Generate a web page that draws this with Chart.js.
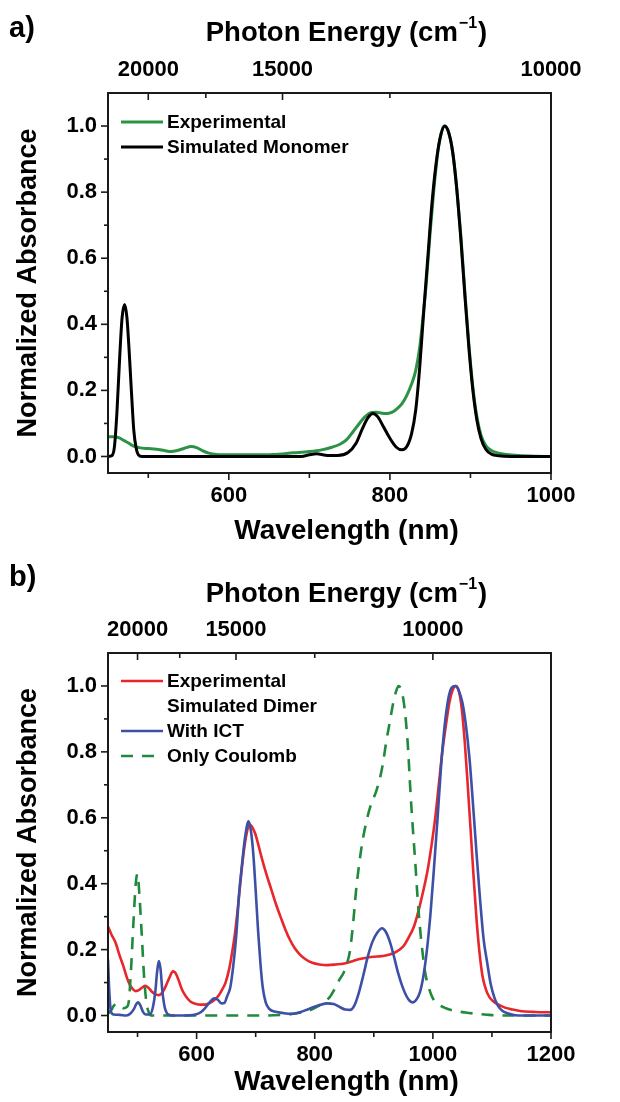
<!DOCTYPE html>
<html>
<head>
<meta charset="utf-8">
<title>Absorbance spectra</title>
<script src="https://cdn.jsdelivr.net/npm/chart.js@4.4.1/dist/chart.umd.min.js"></script>
<style>
  html, body { margin: 0; padding: 0; background: #fff; }
  .panel { width: 620px; position: relative; }
  canvas { display: block; }
</style>
</head>
<body>
<div class="panel"><canvas id="chartA" width="620" height="552"></canvas></div>
<div class="panel"><canvas id="chartB" width="620" height="550"></canvas></div>
<script>
// ---- axis ticks ----
const yTicks = [0, 0.2, 0.4, 0.6, 0.8, 1.0]
const yMinorTicks = [0.1, 0.3, 0.5, 0.7, 0.9]
const energyTicks = [20000, 15000, 10000]
const energyMinorTicks = [17500, 12500]
const wlTicksA = [600, 800, 1000]
const wlMinorA = [500, 700, 900]
const wlTicksB = [600, 800, 1000, 1200]
const wlMinorB = [500, 700, 900, 1100]

// ---- panel a: monomer ----
const expAWl = [450,458,464,470,476,482,490,500,510,520,528,536,545,553,560,567,575,585,600,630,655,680,700,715,728,738,746,754,762,770,777,783,790,797,803,809,815,821,827,832,837,841,845,850,855,860,865,868,873,878,883,888,893,898,903,908,913,919,926,935,945,960,980,1000]
const expAAbs = [0.06,0.06,0.056,0.048,0.04,0.031,0.026,0.024,0.022,0.018,0.015,0.018,0.025,0.03,0.027,0.018,0.01,0.006,0.005,0.005,0.006,0.011,0.015,0.02,0.028,0.037,0.05,0.074,0.1,0.122,0.133,0.134,0.131,0.13,0.134,0.145,0.16,0.185,0.22,0.26,0.33,0.42,0.52,0.68,0.82,0.93,0.99,1.0,0.98,0.92,0.81,0.67,0.5,0.34,0.21,0.12,0.065,0.033,0.018,0.01,0.006,0.003,0.001,0]

const monoWl = [450,455,458,461,464.5,467.5,470.7,473.5,476,479,482,485,488,492,690,700,709,720,735,748,758,766,773,779,785,792,800,808,815,821,827,832,837,842,847,852,857,862,868,873,878,883,888,893,898,903,908,913,919,926,935,950,1000]
const monoAbs = [0,0.003,0.03,0.13,0.3,0.42,0.46,0.42,0.33,0.2,0.08,0.025,0.004,0,0,0.005,0.008,0.004,0.003,0.012,0.04,0.085,0.118,0.13,0.12,0.09,0.055,0.028,0.02,0.03,0.07,0.14,0.27,0.44,0.6,0.76,0.88,0.96,1.0,0.98,0.92,0.81,0.66,0.49,0.33,0.2,0.11,0.055,0.022,0.007,0.002,0,0]

// ---- panel b: dimer ----
const expBWl = [450,456,463,470,476,482,487,492,497,503,508,513,518,524,530,536,542,548,554,560,564,569,575,582,590,598,606,614,622,630,637,643,649,655,660,665,670,675,680,685,689,693,699,705,710,718,726,734,742,750,758,766,775,785,796,808,822,836,850,864,878,892,906,920,932,944,952,960,968,976,984,991,998,1004,1010,1016,1022,1028,1033,1039,1044,1049,1054,1059,1064,1069,1074,1079,1084,1090,1096,1103,1112,1122,1135,1150,1170,1185,1200]
const expBAbs = [0.27,0.245,0.22,0.18,0.15,0.115,0.093,0.08,0.074,0.078,0.085,0.09,0.085,0.073,0.064,0.062,0.07,0.09,0.115,0.134,0.13,0.11,0.08,0.058,0.042,0.036,0.033,0.033,0.038,0.047,0.06,0.078,0.1,0.14,0.19,0.25,0.33,0.42,0.5,0.555,0.578,0.575,0.553,0.515,0.48,0.43,0.385,0.34,0.3,0.262,0.23,0.205,0.185,0.17,0.16,0.155,0.153,0.155,0.158,0.165,0.172,0.177,0.179,0.182,0.188,0.2,0.215,0.24,0.27,0.32,0.38,0.44,0.52,0.6,0.7,0.8,0.88,0.95,0.985,1.0,0.985,0.93,0.83,0.7,0.56,0.42,0.29,0.19,0.12,0.078,0.055,0.042,0.032,0.024,0.018,0.013,0.011,0.01,0.01]

const ictWl = [450,452,455,460,470,481,488,494,498,501,505,509,514,521,526,530,533,536,539,542,546,550,556,575,598,607,614,622,630,636,642,647,652,657,662,667,672,677,682,688,692,696,700,704,708,712,717,723,732,745,760,775,790,805,820,832,843,852,860,867,874,882,890,898,906,914,920,927,934,941,948,955,961,966,972,978,984,990,996,1002,1008,1014,1020,1026,1032,1038,1044,1050,1056,1062,1068,1074,1080,1086,1092,1098,1104,1110,1118,1128,1140,1150,1200]
const ictAbs = [0.17,0.08,0.012,0.003,0.002,0,0.006,0.02,0.035,0.04,0.03,0.012,0.003,0.003,0.025,0.07,0.13,0.165,0.14,0.075,0.025,0.006,0.001,0,0.003,0.01,0.022,0.04,0.052,0.048,0.037,0.038,0.06,0.085,0.15,0.24,0.37,0.46,0.54,0.589,0.56,0.49,0.38,0.26,0.16,0.085,0.04,0.02,0.012,0.008,0.005,0.01,0.02,0.03,0.037,0.035,0.025,0.018,0.017,0.03,0.065,0.12,0.18,0.225,0.252,0.265,0.255,0.225,0.18,0.13,0.09,0.06,0.044,0.04,0.048,0.07,0.12,0.2,0.31,0.45,0.6,0.76,0.88,0.96,0.995,1.0,0.985,0.95,0.88,0.78,0.64,0.49,0.35,0.23,0.16,0.095,0.055,0.03,0.014,0.006,0.001,0,0]

const coulWl = [450,455,460,465,470,476,481,485,489,493,497,500,503,507,511,515,519,524,720,745,770,790,805,815,825,833,842,849,855,860,865,870,876,882,889,896,903,909,915,921,927,933,938,942,946,950,954,958,962,966,970,974,978,982,987,993,1000,1010,1022,1035,1055,1075,1095,1110,1200]
const coulAbs = [0.005,0.015,0.03,0.036,0.028,0.022,0.025,0.04,0.14,0.28,0.4,0.43,0.37,0.25,0.12,0.04,0.01,0,0,0.002,0.007,0.015,0.028,0.04,0.055,0.078,0.11,0.13,0.16,0.2,0.28,0.38,0.47,0.54,0.6,0.645,0.675,0.71,0.76,0.83,0.89,0.95,0.985,1.0,0.99,0.96,0.9,0.81,0.68,0.57,0.47,0.36,0.27,0.2,0.13,0.085,0.052,0.033,0.022,0.015,0.009,0.005,0.002,0,0]

const FONT = '"Liberation Sans", Arial, Helvetica, sans-serif'
Chart.defaults.font.family = FONT
Chart.defaults.font.weight = 'bold'
Chart.defaults.color = '#000'

function series(xs, ys) {
  return xs.map((x, i) => ({ x: x, y: ys[i] }))
}

// frame, tick marks, panel letter, axis titles and legend
const panelDecor = {
  id: 'panelDecor',
  afterDraw(chart, args, opts) {
    const { ctx, chartArea: area, scales } = chart
    const line = (x1, y1, x2, y2) => {
      ctx.beginPath(); ctx.moveTo(x1, y1); ctx.lineTo(x2, y2); ctx.stroke()
    }
    ctx.save()
    ctx.strokeStyle = '#1a1a1a'
    ctx.lineWidth = 2
    ctx.strokeRect(area.left, area.top, area.right - area.left, area.bottom - area.top)

    ctx.lineWidth = 1.6
    opts.wlMajor.forEach((v) => { const x = scales.x.getPixelForValue(v); line(x, area.bottom, x, area.bottom + 7) })
    opts.wlMinor.forEach((v) => { const x = scales.x.getPixelForValue(v); line(x, area.bottom, x, area.bottom + 5) })
    yTicks.forEach((v) => { const y = scales.y.getPixelForValue(v); line(area.left - 7, y, area.left, y) })
    yMinorTicks.forEach((v) => { const y = scales.y.getPixelForValue(v); line(area.left - 4, y, area.left, y) })
    energyTicks.forEach((e) => { const x = scales.x2.getPixelForValue(1e7 / e); line(x, area.top, x, area.top + 7) })
    energyMinorTicks.forEach((e) => { const x = scales.x2.getPixelForValue(1e7 / e); line(x, area.top, x, area.top + 5) })

    ctx.fillStyle = '#000'
    ctx.textBaseline = 'middle'
    ctx.textAlign = 'left'
    ctx.font = 'bold 29px ' + FONT
    ctx.fillText(opts.letter, 9, opts.letterY)

    const midX = (area.left + area.right) / 2 + 17

    // Wavelength (nm)
    ctx.font = 'bold 28px ' + FONT
    ctx.textAlign = 'center'
    ctx.fillText('Wavelength (nm)', midX, opts.xTitleY)
    ctx.textAlign = 'left'

    // Photon Energy (cm^-1)
    const big = 'bold 27.5px ' + FONT
    const small = 'bold 16px ' + FONT
    const p1 = 'Photon Energy (cm', sup = '\u22121', p2 = ')'
    ctx.font = big
    const w1 = ctx.measureText(p1).width
    const w3 = ctx.measureText(p2).width
    ctx.font = small
    const w2 = ctx.measureText(sup).width
    let tx = midX - (w1 + w2 + w3 + 2) / 2
    ctx.font = big
    ctx.fillText(p1, tx, opts.titleY)
    tx += w1 + 1
    ctx.font = small
    ctx.fillText(sup, tx, opts.titleY - 9)
    tx += w2 + 1
    ctx.font = big
    ctx.fillText(p2, tx, opts.titleY)

    // legend
    ctx.font = 'bold 19px ' + FONT
    opts.legend.forEach((row, i) => {
      const y = area.top + opts.legendTop + i * 25
      if (row.ds !== null) {
        const ds = chart.data.datasets[row.ds]
        ctx.strokeStyle = ds.borderColor
        ctx.lineWidth = ds.borderWidth
        ctx.setLineDash(ds.borderDash || [])
        line(area.left + 13, y, area.left + 55, y)
        ctx.setLineDash([])
      }
      ctx.fillText(row.text, area.left + 59, y + 1)
    })
    ctx.restore()
  },
}

function buildOptions(cfg) {
  const tickFont = { size: 22, weight: 'bold' }
  const titleFont = { size: 27, weight: 'bold' }
  return {
    responsive: false,
    animation: false,
    layout: { padding: { left: 0, right: 69, top: 0, bottom: 0 } },
    elements: { point: { radius: 0 } },
    plugins: {
      legend: { display: false },
      tooltip: { enabled: false },
      panelDecor: {
        letter: cfg.letter,
        letterY: cfg.letterY,
        titleY: cfg.titleY,
        xTitleY: cfg.xTitleY,
        legendTop: cfg.legendTop,
        legend: cfg.legend,
        wlMajor: cfg.wlTicks,
        wlMinor: cfg.wlMinor,
      },
    },
    scales: {
      x: {
        type: 'linear',
        position: 'bottom',
        min: 450,
        max: cfg.wlMax,
        afterBuildTicks: (s) => { s.ticks = cfg.wlTicks.map((v) => ({ value: v })) },
        afterFit: (s) => { s.height = cfg.height - cfg.bottom },
        grid: { display: false, drawTicks: false },
        border: { display: false },
        ticks: { autoSkip: false, maxRotation: 0, padding: 10, font: tickFont, color: '#000', callback: (v) => String(v) },
      },
      x2: {
        type: 'linear',
        position: 'top',
        min: 450,
        max: cfg.wlMax,
        afterBuildTicks: (s) => { s.ticks = energyTicks.map((e) => ({ value: 1e7 / e })) },
        afterFit: (s) => { s.height = cfg.top },
        grid: { display: false, drawTicks: false },
        border: { display: false },
        ticks: { autoSkip: false, maxRotation: 0, padding: 10, font: tickFont, color: '#000', callback: (v) => String(Math.round(1e7 / v)) },
      },
      y: {
        min: -0.05,
        max: 1.1,
        afterBuildTicks: (s) => { s.ticks = yTicks.map((v) => ({ value: v })) },
        afterFit: (s) => { s.width = 108 },
        grid: { display: false, drawTicks: false },
        border: { display: false },
        ticks: { padding: 11, font: tickFont, color: '#000', callback: (v) => v.toFixed(1) },
        title: { display: true, text: 'Normalized Absorbance', color: '#000', font: titleFont, padding: { top: 12, bottom: 0 } },
      },
    },
  }
}

const lineStyle = { fill: false, pointRadius: 0, cubicInterpolationMode: 'monotone', tension: 0.4, xAxisID: 'x', yAxisID: 'y' }

new Chart(document.getElementById('chartA').getContext('2d'), {
  type: 'line',
  data: {
    datasets: [
      { ...lineStyle, label: 'Simulated Monomer', data: series(monoWl, monoAbs), borderColor: '#000000', borderWidth: 3, order: 0 },
      { ...lineStyle, label: 'Experimental', data: series(expAWl, expAAbs), borderColor: '#2b9345', borderWidth: 3, order: 1 },
    ],
  },
  options: buildOptions({
    letter: 'a)', letterY: 29, titleY: 33, xTitleY: 531, height: 552, top: 93, bottom: 473,
    wlMax: 1000, wlTicks: wlTicksA, wlMinor: wlMinorA, legendTop: 29,
    legend: [{ text: 'Experimental', ds: 1 }, { text: 'Simulated Monomer', ds: 0 }],
  }),
  plugins: [panelDecor],
})

new Chart(document.getElementById('chartB').getContext('2d'), {
  type: 'line',
  data: {
    datasets: [
      { ...lineStyle, label: 'Experimental', data: series(expBWl, expBAbs), borderColor: '#e8262b', borderWidth: 2.6, order: 2 },
      { ...lineStyle, label: 'With ICT', data: series(ictWl, ictAbs), borderColor: '#3d50a6', borderWidth: 2.6, order: 0 },
      { ...lineStyle, label: 'Only Coulomb', data: series(coulWl, coulAbs), borderColor: '#1f8a3c', borderWidth: 2.6, borderDash: [12, 9], order: 1 },
    ],
  },
  options: buildOptions({
    letter: 'b)', letterY: 26, titleY: 42, xTitleY: 530, height: 550, top: 101, bottom: 480,
    wlMax: 1200, wlTicks: wlTicksB, wlMinor: wlMinorB, legendTop: 28,
    legend: [
      { text: 'Experimental', ds: 0 },
      { text: 'Simulated Dimer', ds: null },
      { text: 'With ICT', ds: 1 },
      { text: 'Only Coulomb', ds: 2 },
    ],
  }),
  plugins: [panelDecor],
})
</script>
</body>
</html>
